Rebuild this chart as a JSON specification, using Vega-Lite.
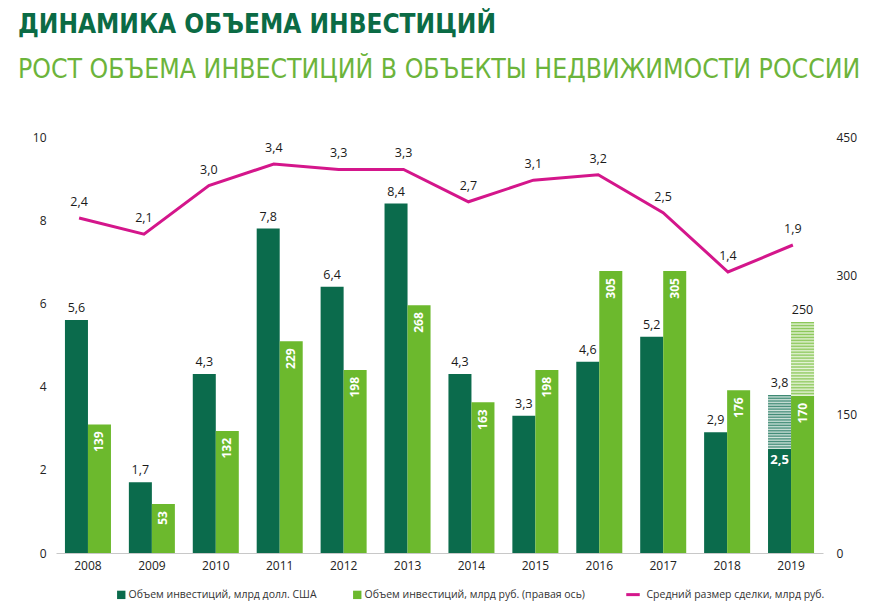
{
  "$schema": "https://vega.github.io/schema/vega-lite/v6.json",
  "width": 767,
  "height": 416,
  "autosize": "none",
  "padding": {"left": 56, "top": 137, "right": 66, "bottom": 57},
  "background": "white",
  "title": {
    "text": "ДИНАМИКА ОБЪЕМА ИНВЕСТИЦИЙ",
    "subtitle": "РОСТ ОБЪЕМА ИНВЕСТИЦИЙ В ОБЪЕКТЫ НЕДВИЖИМОСТИ РОССИИ",
    "anchor": "start",
    "frame": "group",
    "dx": -38,
    "font": "DejaVu Sans Condensed",
    "fontSize": 26,
    "fontWeight": "bold",
    "color": "#0b6b45",
    "subtitleFont": "DejaVu Sans Condensed",
    "subtitleFontSize": 26.4,
    "subtitleFontWeight": "normal",
    "subtitleColor": "#6cb43b",
    "subtitlePadding": 19,
    "offset": 48
  },
  "config": {
    "view": {"stroke": null},
    "font": "Open Sans",
    "locale": {"number": {"decimal": ",", "thousands": " ", "grouping": [3], "currency": ["", ""]}},
    "axis": {"labelFont": "Open Sans", "labelFontSize": 12, "labelColor": "#222222", "ticks": false, "domain": false, "grid": false, "title": null}
  },
  "data": {
    "values": [
      {"year": "2008", "usd": 5.6, "rub": 139, "deal": 2.4},
      {"year": "2009", "usd": 1.7, "rub": 53, "deal": 2.1},
      {"year": "2010", "usd": 4.3, "rub": 132, "deal": 3.0},
      {"year": "2011", "usd": 7.8, "rub": 229, "deal": 3.4},
      {"year": "2012", "usd": 6.4, "rub": 198, "deal": 3.3},
      {"year": "2013", "usd": 8.4, "rub": 268, "deal": 3.3},
      {"year": "2014", "usd": 4.3, "rub": 163, "deal": 2.7},
      {"year": "2015", "usd": 3.3, "rub": 198, "deal": 3.1},
      {"year": "2016", "usd": 4.6, "rub": 305, "deal": 3.2},
      {"year": "2017", "usd": 5.2, "rub": 305, "deal": 2.5},
      {"year": "2018", "usd": 2.9, "rub": 176, "deal": 1.4},
      {"year": "2019", "usd": 2.5, "usd_hi": 3.8, "rub": 170, "rub_hi": 250, "deal": 1.9}
    ]
  },
  "layer": [
    {
      "encoding": {
        "x": {"field": "year", "type": "ordinal", "scale": {"type": "band", "paddingInner": 0.28, "paddingOuter": 0.14},
              "axis": {"labelAngle": 0, "domain": true, "domainColor": "#c8c8c8", "domainWidth": 1, "labelPadding": 7}},
        "xOffset": {"datum": "usd", "scale": {"domain": ["usd", "rub"]}},
        "y": {"type": "quantitative", "scale": {"domain": [0, 10], "nice": false, "zero": true},
              "axis": {"orient": "left", "values": [0, 2, 4, 6, 8, 10], "labelPadding": 10, "format": "d"}}
      },
      "layer": [
        {
          "mark": {"type": "bar"},
          "encoding": {
            "y": {"field": "usd", "type": "quantitative"},
            "color": {"datum": "Объем инвестиций, млрд долл. США", "type": "nominal",
              "scale": {"domain": ["Объем инвестиций, млрд долл. США", "Объем инвестиций, млрд руб. (правая ось)", "Средний размер сделки, млрд руб."],
                        "range": ["#0b6b4c", "#6cb92d", "#d4168b"]},
              "legend": {"orient": "none", "legendX": 60, "legendY": 452, "direction": "horizontal", "title": null,
                         "symbolType": "square", "symbolSize": 70, "labelFont": "Open Sans", "labelFontSize": 10.5, "labelColor": "#333333",
                         "labelLimit": 400, "columnPadding": 35, "labelOffset": 2,
                         "encode": {"symbols": {"update": {
                           "shape": {"signal": "datum.value === 'Средний размер сделки, млрд руб.' ? 'M-1.3,0L0.05,0' : 'square'"},
                           "size": {"signal": "datum.value === 'Средний размер сделки, млрд руб.' ? 400 : 70"},
                           "strokeWidth": {"signal": "datum.value === 'Средний размер сделки, млрд руб.' ? 3 : 0"}
                         }}}}
            }
          }
        },
        {
          "transform": [{"filter": "isValid(datum.usd_hi)"}],
          "mark": {"type": "bar", "fill": {"gradient": "linear", "x1": 0, "y1": 0, "x2": 0, "y2": 1, "stops": [
            {"offset": 0.0125, "color": "#3f8a75"}, {"offset": 0.0375, "color": "#d2e4dd"},
            {"offset": 0.0625, "color": "#3f8a75"}, {"offset": 0.0875, "color": "#d2e4dd"},
            {"offset": 0.1125, "color": "#3f8a75"}, {"offset": 0.1375, "color": "#d2e4dd"},
            {"offset": 0.1625, "color": "#3f8a75"}, {"offset": 0.1875, "color": "#d2e4dd"},
            {"offset": 0.2125, "color": "#3f8a75"}, {"offset": 0.2375, "color": "#d2e4dd"},
            {"offset": 0.2625, "color": "#3f8a75"}, {"offset": 0.2875, "color": "#d2e4dd"},
            {"offset": 0.3125, "color": "#3f8a75"}, {"offset": 0.3375, "color": "#d2e4dd"},
            {"offset": 0.3625, "color": "#3f8a75"}, {"offset": 0.3875, "color": "#d2e4dd"},
            {"offset": 0.4125, "color": "#3f8a75"}, {"offset": 0.4375, "color": "#d2e4dd"},
            {"offset": 0.4625, "color": "#3f8a75"}, {"offset": 0.4875, "color": "#d2e4dd"},
            {"offset": 0.5125, "color": "#3f8a75"}, {"offset": 0.5375, "color": "#d2e4dd"},
            {"offset": 0.5625, "color": "#3f8a75"}, {"offset": 0.5875, "color": "#d2e4dd"},
            {"offset": 0.6125, "color": "#3f8a75"}, {"offset": 0.6375, "color": "#d2e4dd"},
            {"offset": 0.6625, "color": "#3f8a75"}, {"offset": 0.6875, "color": "#d2e4dd"},
            {"offset": 0.7125, "color": "#3f8a75"}, {"offset": 0.7375, "color": "#d2e4dd"},
            {"offset": 0.7625, "color": "#3f8a75"}, {"offset": 0.7875, "color": "#d2e4dd"},
            {"offset": 0.8125, "color": "#3f8a75"}, {"offset": 0.8375, "color": "#d2e4dd"},
            {"offset": 0.8625, "color": "#3f8a75"}, {"offset": 0.8875, "color": "#d2e4dd"},
            {"offset": 0.9125, "color": "#3f8a75"}, {"offset": 0.9375, "color": "#d2e4dd"},
            {"offset": 0.9625, "color": "#3f8a75"}, {"offset": 0.9875, "color": "#d2e4dd"}
          ]}},
          "encoding": {
            "y": {"field": "usd", "type": "quantitative"},
            "y2": {"field": "usd_hi"}
          }
        },
        {
          "transform": [{"filter": "!isValid(datum.usd_hi)"}],
          "mark": {"type": "text", "baseline": "bottom", "dy": -5, "fontSize": 12.5, "color": "#1a1a1a"},
          "encoding": {
            "y": {"field": "usd", "type": "quantitative"},
            "text": {"field": "usd", "type": "quantitative", "format": ".1f"}
          }
        },
        {
          "transform": [{"filter": "isValid(datum.usd_hi)"}],
          "mark": {"type": "text", "baseline": "bottom", "dy": -5, "fontSize": 12.5, "color": "#1a1a1a"},
          "encoding": {
            "y": {"field": "usd_hi", "type": "quantitative"},
            "text": {"field": "usd_hi", "type": "quantitative", "format": ".1f"}
          }
        },
        {
          "transform": [{"filter": "isValid(datum.usd_hi)"}],
          "mark": {"type": "text", "baseline": "top", "dy": 5, "fontSize": 13, "fontWeight": "bold", "color": "white"},
          "encoding": {
            "y": {"field": "usd", "type": "quantitative"},
            "text": {"field": "usd", "type": "quantitative", "format": ".1f"}
          }
        }
      ]
    },
    {
      "encoding": {
        "x": {"field": "year", "type": "ordinal", "scale": {"type": "band", "paddingInner": 0.28, "paddingOuter": 0.14}, "axis": null},
        "xOffset": {"datum": "rub", "scale": {"domain": ["usd", "rub"]}},
        "y": {"type": "quantitative", "scale": {"domain": [0, 450], "nice": false, "zero": true},
              "axis": {"orient": "right", "values": [0, 150, 300, 450], "labelPadding": 13, "format": "d"}}
      },
      "layer": [
        {
          "mark": {"type": "bar"},
          "encoding": {
            "y": {"field": "rub", "type": "quantitative"},
            "color": {"datum": "Объем инвестиций, млрд руб. (правая ось)", "type": "nominal"}
          }
        },
        {
          "transform": [{"filter": "isValid(datum.rub_hi)"}],
          "mark": {"type": "bar", "fill": {"gradient": "linear", "x1": 0, "y1": 0, "x2": 0, "y2": 1, "stops": [
            {"offset": 0.01, "color": "#8cc85a"}, {"offset": 0.03, "color": "#e6f3d9"},
            {"offset": 0.05, "color": "#8cc85a"}, {"offset": 0.07, "color": "#e6f3d9"},
            {"offset": 0.09, "color": "#8cc85a"}, {"offset": 0.11, "color": "#e6f3d9"},
            {"offset": 0.13, "color": "#8cc85a"}, {"offset": 0.15, "color": "#e6f3d9"},
            {"offset": 0.17, "color": "#8cc85a"}, {"offset": 0.19, "color": "#e6f3d9"},
            {"offset": 0.21, "color": "#8cc85a"}, {"offset": 0.23, "color": "#e6f3d9"},
            {"offset": 0.25, "color": "#8cc85a"}, {"offset": 0.27, "color": "#e6f3d9"},
            {"offset": 0.29, "color": "#8cc85a"}, {"offset": 0.31, "color": "#e6f3d9"},
            {"offset": 0.33, "color": "#8cc85a"}, {"offset": 0.35, "color": "#e6f3d9"},
            {"offset": 0.37, "color": "#8cc85a"}, {"offset": 0.39, "color": "#e6f3d9"},
            {"offset": 0.41, "color": "#8cc85a"}, {"offset": 0.43, "color": "#e6f3d9"},
            {"offset": 0.45, "color": "#8cc85a"}, {"offset": 0.47, "color": "#e6f3d9"},
            {"offset": 0.49, "color": "#8cc85a"}, {"offset": 0.51, "color": "#e6f3d9"},
            {"offset": 0.53, "color": "#8cc85a"}, {"offset": 0.55, "color": "#e6f3d9"},
            {"offset": 0.57, "color": "#8cc85a"}, {"offset": 0.59, "color": "#e6f3d9"},
            {"offset": 0.61, "color": "#8cc85a"}, {"offset": 0.63, "color": "#e6f3d9"},
            {"offset": 0.65, "color": "#8cc85a"}, {"offset": 0.67, "color": "#e6f3d9"},
            {"offset": 0.69, "color": "#8cc85a"}, {"offset": 0.71, "color": "#e6f3d9"},
            {"offset": 0.73, "color": "#8cc85a"}, {"offset": 0.75, "color": "#e6f3d9"},
            {"offset": 0.77, "color": "#8cc85a"}, {"offset": 0.79, "color": "#e6f3d9"},
            {"offset": 0.81, "color": "#8cc85a"}, {"offset": 0.83, "color": "#e6f3d9"},
            {"offset": 0.85, "color": "#8cc85a"}, {"offset": 0.87, "color": "#e6f3d9"},
            {"offset": 0.89, "color": "#8cc85a"}, {"offset": 0.91, "color": "#e6f3d9"},
            {"offset": 0.93, "color": "#8cc85a"}, {"offset": 0.95, "color": "#e6f3d9"},
            {"offset": 0.97, "color": "#8cc85a"}, {"offset": 0.99, "color": "#e6f3d9"}
          ]}},
          "encoding": {
            "y": {"field": "rub", "type": "quantitative"},
            "y2": {"field": "rub_hi"}
          }
        },
        {
          "mark": {"type": "text", "angle": 270, "align": "right", "baseline": "middle", "dx": -7, "fontSize": 12, "fontWeight": "bold", "color": "white"},
          "encoding": {
            "y": {"field": "rub", "type": "quantitative"},
            "text": {"field": "rub", "type": "quantitative", "format": "d"}
          }
        },
        {
          "transform": [{"filter": "isValid(datum.rub_hi)"}],
          "mark": {"type": "text", "baseline": "bottom", "dy": -5, "fontSize": 12.5, "color": "#1a1a1a"},
          "encoding": {
            "y": {"field": "rub_hi", "type": "quantitative"},
            "text": {"field": "rub_hi", "type": "quantitative", "format": "d"}
          }
        }
      ]
    },
    {
      "encoding": {
        "x": {"field": "year", "type": "ordinal", "scale": {"type": "point", "padding": 0.41, "align": 0.434}, "axis": null},
        "y": {"field": "deal", "type": "quantitative", "scale": {"domain": [-3.804, 3.9], "nice": false, "zero": false}, "axis": null}
      },
      "layer": [
        {
          "mark": {"type": "line", "strokeWidth": 3},
          "encoding": {
            "color": {"datum": "Средний размер сделки, млрд руб.", "type": "nominal"}
          }
        },
        {
          "mark": {"type": "text", "baseline": "middle", "dy": -16, "fontSize": 12.5, "color": "#1a1a1a"},
          "encoding": {
            "text": {"field": "deal", "type": "quantitative", "format": ".1f"}
          }
        }
      ]
    }
  ],
  "resolve": {"scale": {"y": "independent", "x": "independent"}}
}
